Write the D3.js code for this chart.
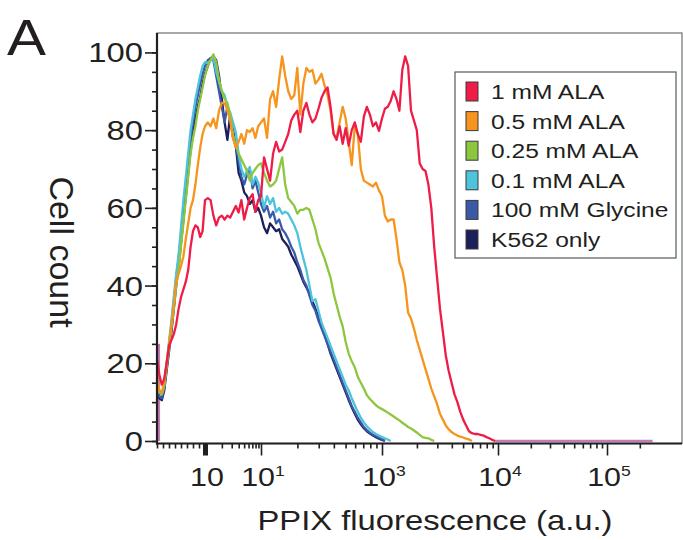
<!DOCTYPE html>
<html lang="en">
<head>
    <meta charset="UTF-8">
    <title>PPIX fluorescence</title>
    <script src="https://d3js.org/d3.v7.min.js" type="text/javascript"></script>
    <style>
        body { margin: 0; background: #fff; }
        text { font-family: "Liberation Sans", Arial, sans-serif; fill: #231f20; }
    </style>
</head>
<body>
<script>
    // bin positions, log10 of fluorescence: coarse below 10^2, fine above
    var binsLow = d3.range(0, 40).map(function (i) { return i * 0.05; });
    var binsHigh = d3.range(0, 81).map(function (i) { return 2 + i * 0.025; });
    var bins = binsLow.concat(binsHigh);
    var lastBin = 5.4185;   // 262144 channels
    var pileup = 25;        // events stuck in the first bin

    var seriesNames = ["1 mM ALA", "0.5 mM ALA", "0.25 mM ALA", "0.1 mM ALA", "100 mM Glycine", "K562 only"];
    var seriesColors = ["#ee1c46", "#f7941d", "#8dc63f", "#4ec3dc", "#3a5aa8", "#1d1f5b"];

    var ala1 = [21, 17, 14.5, 16, 20, 24.5, 26, 27.5, 30, 34, 37, 39, 41, 44, 50, 54, 55.5, 55, 52.5, 54,
        62, 62.5, 62, 58, 55.5, 57.5, 58, 57, 58, 57.5, 59, 60.5, 58.8, 62, 57, 60, 62.5, 63.5, 59, 62,
        63, 73, 70, 67, 74, 77, 74.5, 75, 77, 79, 82.5, 84, 85, 79.5, 85, 87, 84, 82, 83, 85.5,
        88.3, 90, 91, 86, 79, 77.5, 81, 76.5, 80.5, 76, 80, 82, 79, 77, 83.5, 86, 84, 81, 82, 79.8,
        83, 85.5, 86, 87.5, 90, 88, 85, 95.5, 99, 96.5, 85, 82.5, 80, 71.5, 70, 69.5, 66, 60, 50, 42,
        34, 28, 22, 18, 15, 12, 10, 7.5, 5.5, 4, 2.5, 2, 1.8, 1.8, 1.6, 1.4, 1.0, 0.7, 0.3, 0];
    var ala05 = [16, 13, 12.5, 15, 20, 25, 30, 35, 41, 43, 45, 47.5, 52, 56, 60, 62, 66, 71, 75.5, 79,
        81, 82, 81, 83, 80.5, 85, 87, 87, 85, 82.5, 78, 75.5, 77, 79, 76.5, 80, 79.5, 80.5, 78, 81,
        82, 83, 78, 88, 90, 86, 93, 99, 94, 90, 88, 89, 96, 84, 92, 96, 95, 95.5, 92, 93,
        94.5, 91.5, 89, 85, 79, 78, 82, 86, 83, 77, 71, 81, 79, 70, 67, 66.5, 66, 65.5, 66.5, 64.5,
        63, 58, 56.5, 57, 57, 52, 46, 44, 40, 33, 31.5, 29, 26, 23.5, 21, 18.5, 16, 13.5, 11.5, 9.5,
        7, 5.5, 4, 3, 2.3, 1.8, 1.4, 1.1, 0.9, 0.6, 0.4, 0];
    var ala025 = [16, 12.5, 12, 14, 19, 24, 29, 34, 40, 44, 50, 56, 62, 68, 74, 78, 81, 85, 88, 91,
        94, 96.5, 98, 99.5, 97.5, 93, 90, 88, 87, 84, 79, 76, 74, 72.5, 71, 69.5, 67, 69, 70, 71,
        71.5, 69, 67, 65.5, 66, 67, 70, 73, 66, 62.5, 61.5, 60.5, 58.5, 59.5, 59.5, 60, 59.5, 57, 54.5, 51,
        49, 47, 44.5, 42, 38, 35, 32, 29.5, 25.5, 22.5, 20.5, 19, 16.5, 15, 13.5, 11.8, 10.8, 10, 9.2, 8.6,
        8.2, 7.8, 7.3, 6.8, 6.3, 5.8, 5.3, 4.7, 4.2, 3.6, 3.2, 2.7, 2.2, 1.6, 1.0, 0.8, 0.7, 0.3, 0];
    var ala01 = [16, 12.5, 12, 14.5, 20, 25.5, 31, 37, 43, 48, 55, 62, 68, 74, 80, 84, 88, 91, 94, 96.5,
        97.5, 97.3, 98, 98.6, 95, 92.5, 90, 89, 86, 84.5, 82, 79.5, 74, 70, 68, 69.5, 70.5, 66, 68, 66.5,
        64, 60, 63, 61, 62.5, 59, 60, 58.5, 59, 58.5, 57, 55.5, 53.5, 50, 47, 44, 40, 36, 36.5, 33.5,
        30.5, 28.5, 26.5, 24.5, 22.5, 20.5, 18.5, 16.5, 14.5, 13, 11, 9.2, 7.5, 6, 4.8, 3.8, 3, 2.3, 1.8, 1.4,
        1.0, 0.7, 0.4, 0];
    var glycine = [15, 11.5, 11, 13.5, 19, 24.5, 30, 36, 42, 47, 53, 60, 66, 72, 78, 82, 86, 89, 92, 94.5,
        96.5, 98, 98.5, 98, 94, 90, 86, 82, 86, 83, 78, 76, 72, 68, 66, 68.5, 70, 65, 67, 64,
        61, 59, 60.5, 57.5, 59, 56, 57, 54.5, 53.5, 52, 50, 48.5, 46, 44, 41.5, 40, 37.5, 35, 33.5, 31,
        29, 27, 25, 23, 21, 19, 17, 15, 13, 11, 9, 7.5, 6, 4.8, 3.6, 2.8, 2.1, 1.6, 1.2, 0.8,
        0.5, 0];
    var k562 = [15, 11, 10.5, 13, 18, 23, 28, 34, 40, 45, 51, 57, 63, 69, 75, 79, 83, 86, 88.5, 92,
        94.5, 96.5, 98.5, 99, 98, 94, 88, 82, 77.5, 84, 80, 76, 69, 67, 64, 63, 61, 62, 59, 60,
        58, 55, 53.5, 56, 55, 54, 54.5, 52, 51, 50, 48, 46.5, 45, 43, 41, 39.5, 38, 36, 34, 32,
        30, 27.5, 25, 22.5, 20.5, 18.5, 16.5, 14.5, 12.5, 10.5, 8.7, 7, 5.5, 4.3, 3.3, 2.5, 1.9, 1.4, 1.0, 0.6,
        0.3, 0];
    var seriesValues = [ala1, ala05, ala025, ala01, glycine, k562];

    var yMajor = [0, 20, 40, 60, 80, 100];
    var yMinor = d3.range(0, 101, 5);
    var xMajor = [1, 2, 3, 4, 5];
    var xMajorLabels = [["10", ""], ["10", "1"], ["10", "3"], ["10", "4"], ["10", "5"]];
    var xMinor = [0, 0.125, 0.25, 0.375, 0.5, 0.625, 0.75, 0.875];
    [1, 2, 3, 4].forEach(function (d) {
        d3.range(2, 10).forEach(function (k) { xMinor.push(d + Math.log10(k)); });
    });
    xMinor.push(5 + Math.log10(2));

    var width = 683, height = 540;
    var plotLeft = 157, plotTop = 33, plotRight = 682, plotBottom = 441, axisY = 443.5;
    var stretch = 1.17;   // the figure is a little wider than it is tall

    // display scale: compressed near zero, like the cytometer software
    var decadeWidths = [48, 56, 121, 116, 109, 75];
    var xRange = [plotLeft];
    decadeWidths.forEach(function (w) { xRange.push(xRange[xRange.length - 1] + w); });
    var x = d3.scaleLinear().domain([0, 1, 2, 3, 4, 5, 5 + 75 / 109]).range(xRange);
    var y = d3.scaleLinear().domain([0, 105]).range([plotBottom, plotTop]);

    var svg = d3.select("body").append("svg")
        .attr("width", width)
        .attr("height", height);

    // frame
    svg.append("rect")
        .attr("x", plotLeft).attr("y", plotTop)
        .attr("width", plotRight - plotLeft).attr("height", axisY - plotTop)
        .attr("fill", "none")
        .attr("stroke", "#6d6e71")
        .attr("stroke-width", 1.2);

    var xy = d3.line().x(function (d) { return x(d[0]); }).y(function (d) { return y(d[1]); });

    // events piled up in the first bin, and the empty tail past the last curve
    var ala1End = bins[ala1.length - 1];
    [[[0.04, pileup], [0.04, 0]], [[ala1End, 0], [lastBin, 0]]].forEach(function (seg) {
        svg.append("path")
            .attr("d", xy(seg))
            .attr("fill", "none")
            .attr("stroke", "#c27bb4")
            .attr("stroke-width", 2.3);
    });

    var line = d3.line()
        .x(function (d, i) { return x(bins[i]); })
        .y(function (d) { return y(d); });

    // draw the controls first so the ALA curves sit on top
    d3.range(5, -1, -1).forEach(function (s) {
        svg.append("path")
            .attr("d", line(seriesValues[s]))
            .attr("fill", "none")
            .attr("stroke", seriesColors[s])
            .attr("stroke-width", 2.3)
            .attr("stroke-linejoin", "round");
    });

    // axes
    var axisColor = "#231f20";
    svg.append("g")
        .attr("transform", "translate(" + plotLeft + ",0)")
        .call(d3.axisLeft(y).tickValues(yMinor).tickSize(5).tickFormat(""));
    svg.append("g")
        .attr("transform", "translate(" + plotLeft + ",0)")
        .call(d3.axisLeft(y).tickValues(yMajor).tickSize(12).tickFormat(""));
    svg.append("g")
        .attr("transform", "translate(0," + axisY + ")")
        .call(d3.axisBottom(x).tickValues(xMinor).tickSize(5).tickFormat(""));
    var xMajorAxis = svg.append("g")
        .attr("transform", "translate(0," + axisY + ")")
        .call(d3.axisBottom(x).tickValues(xMajor).tickSize(12).tickFormat(""));
    svg.selectAll(".domain").remove();
    svg.selectAll(".tick line").attr("stroke", axisColor).attr("stroke-width", 1.6);
    xMajorAxis.select(".tick line").attr("stroke-width", 5);

    svg.append("line")
        .attr("x1", plotLeft).attr("x2", plotLeft).attr("y1", plotTop).attr("y2", axisY + 1)
        .attr("stroke", axisColor).attr("stroke-width", 2.2);
    svg.append("line")
        .attr("x1", plotLeft - 1).attr("x2", plotRight).attr("y1", axisY).attr("y2", axisY)
        .attr("stroke", axisColor).attr("stroke-width", 2);

    function place(sel, px, py) {
        return sel.attr("transform", "translate(" + px + "," + py + ") scale(" + stretch + ",1)");
    }

    yMajor.forEach(function (v) {
        place(svg.append("text"), plotLeft - 14, y(v) + 10)
            .attr("text-anchor", "end")
            .style("font-size", "28px")
            .text(v);
    });

    xMajor.forEach(function (v, i) {
        var t = place(svg.append("text"), x(v) + 2, 486)
            .attr("text-anchor", "middle")
            .style("font-size", "26px");
        t.append("tspan").text(xMajorLabels[i][0]);
        if (xMajorLabels[i][1]) {
            t.append("tspan").attr("dy", -10).style("font-size", "15px").text(xMajorLabels[i][1]);
        }
    });

    place(svg.append("text"), 435, 530)
        .attr("text-anchor", "middle")
        .style("font-size", "28px")
        .text("PPIX fluorescence (a.u.)");

    svg.append("text")
        .attr("transform", "translate(50,252) rotate(90)")
        .attr("text-anchor", "middle")
        .style("font-size", "34px")
        .text("Cell count");

    place(svg.append("text"), 7, 55)
        .style("font-size", "50px")
        .text("A");

    // legend
    var legend = svg.append("g");
    legend.append("rect")
        .attr("x", 455).attr("y", 72)
        .attr("width", 221).attr("height", 186)
        .attr("fill", "#fff")
        .attr("stroke", "#58595b")
        .attr("stroke-width", 1.2);
    var rows = legend.selectAll(".row")
        .data(seriesNames)
        .enter()
        .append("g")
        .attr("class", "row")
        .attr("transform", function (d, i) { return "translate(466," + (82 + i * 29.6) + ")"; });
    rows.append("rect")
        .attr("width", 12).attr("height", 19)
        .attr("fill", function (d, i) { return seriesColors[i]; })
        .attr("stroke", "#3a3a3a")
        .attr("stroke-width", 1);
    rows.append("text")
        .attr("transform", "translate(25,17) scale(" + stretch + ",1)")
        .style("font-size", "21px")
        .text(function (d) { return d; });
</script>
</body>
</html>
